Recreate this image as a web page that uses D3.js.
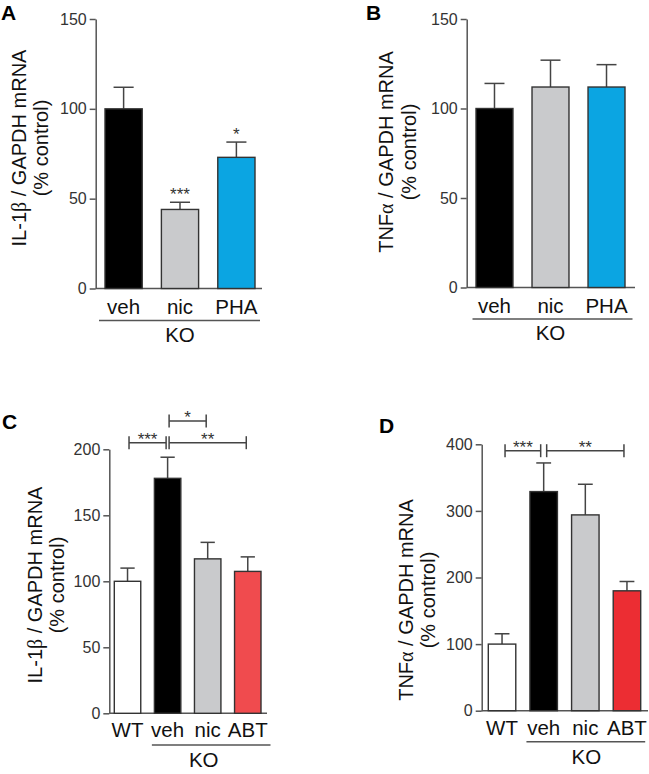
<!DOCTYPE html>
<html><head><meta charset="utf-8">
<script src="https://cdn.jsdelivr.net/npm/d3@7"></script>
<style>body{margin:0;background:#fff} svg{display:block}</style>
</head><body>
<svg id="c" width="649" height="774"></svg>
<script>
// ---------- data ----------
const catsA = ["veh", "nic", "PHA"];
const valsA = [100, 44, 73];
const errA = [12, 4, 8.5];
const sigA = ["", "***", "*"];
const colorsA = ["#000000", "#c9cacc", "#0ba5e2"];
const ticksA = [0, 50, 100, 150];

const catsB = ["veh", "nic", "PHA"];
const valsB = [100, 112, 112];
const errB = [14, 15, 12.5];
const sigB = ["", "", ""];
const colorsB = ["#000000", "#c9cacc", "#0ba5e2"];
const ticksB = [0, 50, 100, 150];

const catsC = ["WT", "veh", "nic", "ABT"];
const valsC = [100, 178, 117, 107.5];
const errC = [10, 16, 12.5, 11];
const colorsC = ["#ffffff", "#000000", "#c9cacc", "#f04b4e"];
const ticksC = [0, 50, 100, 150, 200];
const bracketsC = [
  {from: 0, to: 1, label: "***", level: 0},
  {from: 1, to: 2, label: "*", level: 1},
  {from: 1, to: 3, label: "**", level: 0}
];

const catsD = ["WT", "veh", "nic", "ABT"];
const valsD = [100, 329, 294, 180];
const errD = [15.5, 43, 46, 14];
const colorsD = ["#ffffff", "#000000", "#c9cacc", "#ec2d33"];
const ticksD = [0, 100, 200, 300, 400];
const bracketsD = [
  {from: 0, to: 1, label: "***", level: 0},
  {from: 1, to: 3, label: "**", level: 0}
];

const groupLabel = "KO";
const yLabelIL = ["IL-1", "β", " / GAPDH mRNA"];
const yLabelTNF = ["TNF", "α", " / GAPDH mRNA"];
const yLabel2 = "(% control)";

// ---------- drawing ----------
const FONT = "'Liberation Sans', Arial, Helvetica, sans-serif";
const svg = d3.select("#c");

function panel(cfg) {
  const g = svg.append("g");
  const y = d3.scaleLinear().domain([0, d3.max(cfg.ticks)]).range([cfg.y0, cfg.y1]);
  const x = d3.scaleBand().domain(cfg.cats).range(cfg.xr).paddingInner(0.34).paddingOuter(0);
  const bw = x.bandwidth();

  // y axis
  const ax = g.append("g").attr("transform", `translate(${cfg.ax},0)`)
    .call(d3.axisLeft(y).tickValues(cfg.ticks).tickSize(6).tickSizeOuter(0).tickPadding(3));
  ax.select(".domain").attr("stroke", "#555").attr("stroke-width", 1.5);
  ax.selectAll(".tick line").attr("stroke", "#555").attr("stroke-width", 1.5);
  ax.selectAll(".tick text").attr("font-family", FONT).attr("font-size", 16).attr("fill", "#333");

  // baseline
  g.append("line").attr("x1", cfg.ax).attr("x2", cfg.baseEnd)
    .attr("y1", y(0)).attr("y2", y(0)).attr("stroke", "#555").attr("stroke-width", 1.5);

  // error bars (upper only)
  const eb = g.append("g").attr("stroke", "#444").attr("stroke-width", 1.5);
  cfg.cats.forEach((c, i) => {
    const cx = x(c) + bw / 2;
    const top = y(cfg.vals[i] + cfg.err[i]);
    eb.append("line").attr("x1", cx).attr("x2", cx).attr("y1", y(cfg.vals[i])).attr("y2", top);
    eb.append("line").attr("x1", cx - bw * 0.27).attr("x2", cx + bw * 0.27).attr("y1", top).attr("y2", top);
  });

  // bars
  g.selectAll("rect.bar").data(cfg.cats).join("rect")
    .attr("x", d => x(d)).attr("width", bw)
    .attr("y", (d, i) => y(cfg.vals[i]))
    .attr("height", (d, i) => y(0) - y(cfg.vals[i]))
    .attr("fill", (d, i) => cfg.colors[i])
    .attr("stroke", "#333").attr("stroke-width", 1.4);

  // significance stars above bars
  if (cfg.sig) {
    cfg.cats.forEach((c, i) => {
      if (!cfg.sig[i]) return;
      g.append("text").attr("x", x(c) + bw / 2).attr("y", y(cfg.vals[i] + cfg.err[i]) - 2)
        .attr("text-anchor", "middle").attr("font-family", FONT).attr("font-size", 17)
        .attr("fill", "#333").text(cfg.sig[i]);
    });
  }

  // brackets
  if (cfg.brackets) {
    cfg.brackets.forEach(b => {
      const x1 = x(cfg.cats[b.from]) + bw / 2 + cfg.inset;
      const x2 = x(cfg.cats[b.to]) + bw / 2 - cfg.inset;
      const by = cfg.bracketY[b.level];
      const bg = g.append("g").attr("stroke", "#444").attr("stroke-width", 1.5);
      bg.append("line").attr("x1", x1).attr("x2", x2).attr("y1", by).attr("y2", by);
      bg.append("line").attr("x1", x1).attr("x2", x1).attr("y1", by - 6.5).attr("y2", by + 6.5);
      bg.append("line").attr("x1", x2).attr("x2", x2).attr("y1", by - 6.5).attr("y2", by + 6.5);
      g.append("text").attr("x", (x1 + x2) / 2).attr("y", by + 2)
        .attr("text-anchor", "middle").attr("font-family", FONT).attr("font-size", 17)
        .attr("fill", "#333").text(b.label);
    });
  }

  // category labels
  g.selectAll("text.cat").data(cfg.cats).join("text").attr("class", "cat")
    .attr("x", d => x(d) + bw / 2).attr("y", cfg.catY)
    .attr("text-anchor", "middle").attr("font-family", FONT).attr("font-size", 20.5)
    .attr("fill", "#111").text(d => d);

  // group line + label
  const gc = cfg.cats.slice(cfg.groupFrom);
  const gx1 = x(gc[0]) - cfg.groupPad[0];
  const gx2 = x(gc[gc.length - 1]) + bw + cfg.groupPad[1];
  g.append("line").attr("x1", gx1).attr("x2", gx2).attr("y1", cfg.groupY).attr("y2", cfg.groupY)
    .attr("stroke", "#555").attr("stroke-width", 1.5);
  g.append("text").attr("x", x(cfg.cats[cfg.koAt]) + bw / 2 + cfg.koDx).attr("y", cfg.koY)
    .attr("text-anchor", "middle").attr("font-family", FONT).attr("font-size", 20.5)
    .attr("fill", "#111").text(groupLabel);

  // y-axis label (two lines, rotated)
  const t1 = g.append("text").attr("transform", `translate(${cfg.yl1x},${cfg.ylcy}) rotate(-90)`)
    .attr("text-anchor", "middle").attr("font-family", FONT).attr("font-size", 20).attr("fill", "#111");
  t1.append("tspan").text(cfg.ylabel[0]);
  t1.append("tspan").attr("font-family", "'Liberation Serif', 'DejaVu Serif', serif").text(cfg.ylabel[1]);
  t1.append("tspan").text(cfg.ylabel[2]);
  g.append("text").attr("transform", `translate(${cfg.yl2x},${cfg.ylcy}) rotate(-90)`)
    .attr("text-anchor", "middle").attr("font-family", FONT).attr("font-size", 20).attr("fill", "#111")
    .text(yLabel2);

  // panel letter
  g.append("text").attr("x", cfg.lx).attr("y", cfg.ly).attr("font-family", FONT)
    .attr("font-size", 21).attr("font-weight", "bold").attr("fill", "#000").text(cfg.letter);
}

panel({cats: catsA, vals: valsA, err: errA, sig: sigA, colors: colorsA, ticks: ticksA,
  ax: 95.7, y0: 288.5, y1: 19, xr: [105, 255], baseEnd: 262, catY: 314, groupY: 320.5,
  groupFrom: 0, koAt: 1, koDx: 0, groupPad: [6, 5], koY: 341.5, letter: "A", lx: 1, ly: 19.5,
  yl1x: 26, yl2x: 48, ylcy: 148, ylabel: yLabelIL});

panel({cats: catsB, vals: valsB, err: errB, sig: sigB, colors: colorsB, ticks: ticksB,
  ax: 466.7, y0: 287.5, y1: 19, xr: [476, 625], baseEnd: 635, catY: 312.5, groupY: 319,
  groupFrom: 0, koAt: 1, koDx: 0, groupPad: [3.5, 7.5], koY: 339.5, letter: "B", lx: 366, ly: 19.5,
  yl1x: 393, yl2x: 416, ylcy: 152, ylabel: yLabelTNF});

panel({cats: catsC, vals: valsC, err: errC, colors: colorsC, ticks: ticksC, brackets: bracketsC,
  bracketY: [442.7, 421], inset: 1.5,
  ax: 109.3, y0: 713.3, y1: 449.3, xr: [114.3, 261], baseEnd: 267, catY: 737, groupY: 745,
  groupFrom: 1, koAt: 2, koDx: -4, groupPad: [2.5, 9.5], koY: 767, letter: "C", lx: 2, ly: 429,
  yl1x: 42, yl2x: 64, ylcy: 585, ylabel: yLabelIL});

panel({cats: catsD, vals: valsD, err: errD, colors: colorsD, ticks: ticksD, brackets: bracketsD,
  bracketY: [450.7], inset: 3,
  ax: 481.7, y0: 710.7, y1: 444.3, xr: [488.3, 640.7], baseEnd: 648, catY: 735, groupY: 741.7,
  groupFrom: 1, koAt: 2, koDx: 1, groupPad: [3.5, 4.5], koY: 763.5, letter: "D", lx: 379, ly: 433,
  yl1x: 413, yl2x: 435, ylcy: 600, ylabel: yLabelTNF});
</script>
</body></html>
